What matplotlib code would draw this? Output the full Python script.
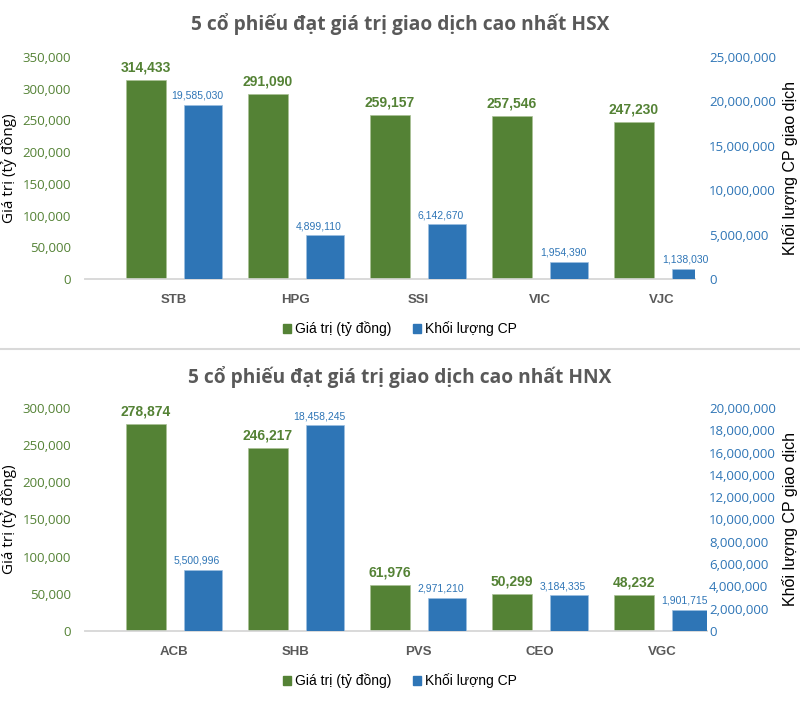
import matplotlib
matplotlib.use("Agg")
import matplotlib.pyplot as plt
from matplotlib.patches import Patch
from matplotlib.ticker import FuncFormatter, MultipleLocator

# HSX
hsx_codes = ["STB", "HPG", "SSI", "VIC", "VJC"]
hsx_value = [314433, 291090, 259157, 257546, 247230]       # ty dong
hsx_volume = [19585030, 4899110, 6142670, 1954390, 1138030]

# HNX
hnx_codes = ["ACB", "SHB", "PVS", "CEO", "VGC"]
hnx_value = [278874, 246217, 61976, 50299, 48232]
hnx_volume = [5500996, 18458245, 2971210, 3184335, 1901715]

GREEN = "#548235"
BLUE = "#2E75B6"
GRAY = "#595959"
NARROW = ["Liberation Sans Narrow", "Liberation Sans", "DejaVu Sans"]
NORMAL = ["Open Sans", "DejaVu Sans"]
ARIAL = ["Liberation Sans", "DejaVu Sans"]

W, H = 800, 703
fig = plt.figure(figsize=(W / 100, H / 100), dpi=100)

comma = FuncFormatter(lambda v, p: f"{v:,.0f}")


def panel(top_px, bottom_px, right_px, title, codes, values, volumes,
          vmax, vstep, qmax, qstep, title_y, legend_y):
    left_px = 85
    ax = fig.add_axes([left_px / W, 1 - bottom_px / H,
                       (right_px - left_px) / W, (bottom_px - top_px) / H])
    ax2 = ax.twinx()
    x = list(range(len(codes)))
    width_unit = 122.0
    xmax = (right_px - left_px) / width_unit - 0.5

    ax.bar(x, values, width=0.32, color=GREEN, edgecolor="#a9c196", lw=0.5, zorder=3)
    xb = [i + 57 / width_unit for i in x]
    ax2.bar(xb, volumes, width=0.31, color=BLUE, edgecolor="#9dbfe0", lw=0.5, zorder=3)

    for i, v in zip(x, values):
        ax.annotate(f"{v:,}", (i, v), xytext=(0, 4), textcoords="offset points",
                    ha="center", va="bottom", color=GREEN, fontsize=10,
                    fontweight="bold", family=NARROW)
    for i, q in zip(xb, volumes):
        ax2.annotate(f"{q:,}", (i - 0.05, q), xytext=(0, 3), textcoords="offset points",
                     ha="center", va="bottom", color=BLUE, fontsize=7.5,
                     family=NARROW, annotation_clip=False)

    ax.set_xlim(-0.5, xmax)
    ax.set_ylim(0, vmax)
    ax2.set_ylim(0, qmax)
    ax.yaxis.set_major_locator(MultipleLocator(vstep))
    ax2.yaxis.set_major_locator(MultipleLocator(qstep))
    ax.yaxis.set_major_formatter(comma)
    ax2.yaxis.set_major_formatter(comma)

    ax.set_xticks([i + 28 / width_unit for i in x])
    ax.set_xticklabels(codes, color=GRAY, fontsize=9.5, fontweight="bold", family=NARROW)
    ax.tick_params(axis="x", length=0, pad=11)
    ax.tick_params(axis="y", length=0, pad=10, labelcolor=GREEN, labelsize=9.5)
    ax2.tick_params(axis="y", length=0, pad=(709 - right_px) * 0.72,
                    labelcolor=BLUE, labelsize=9.5)
    for t in ax.get_yticklabels() + ax2.get_yticklabels():
        t.set_family(NORMAL)

    for a in (ax, ax2):
        for s in ("top", "left", "right"):
            a.spines[s].set_visible(False)
        a.spines["bottom"].set_color("#d9d9d9")
        a.spines["bottom"].set_linewidth(1.2)
        a.patch.set_visible(False)

    mid = 1 - (top_px + bottom_px) / 2 / H
    fig.text(9 / W, mid, "Giá trị (tỷ đồng)", rotation=90, ha="center", va="center",
             fontsize=11, family=NORMAL, color="black")
    fig.text(790 / W, mid, "Khối lượng CP giao dịch", rotation=90, ha="center",
             va="center", fontsize=11.5, family=ARIAL, color="black")
    fig.text(0.5, 1 - title_y / H, title, ha="center", va="center", fontsize=13.8,
             fontweight="bold", color=GRAY, family=NORMAL)

    handles = [Patch(color=GREEN, label="Giá trị (tỷ đồng)"),
               Patch(color=BLUE, label="Khối lượng CP")]
    fig.legend(handles=handles, loc="center", bbox_to_anchor=(0.5, 1 - legend_y / H),
               ncol=2, frameon=False, handlelength=0.55, handleheight=0.55,
               handletextpad=0.3, columnspacing=1.6,
               prop={"family": ARIAL, "size": 10})


panel(57, 279, 695, "5 cổ phiếu đạt giá trị giao dịch cao nhất HSX",
      hsx_codes, hsx_value, hsx_volume, 350000, 50000, 25000000, 5000000, 24, 329)
panel(408, 631, 707, "5 cổ phiếu đạt giá trị giao dịch cao nhất HNX",
      hnx_codes, hnx_value, hnx_volume, 300000, 50000, 20000000, 2000000, 377, 681)

# separator between the two charts
fig.add_artist(plt.Line2D([0, 1], [1 - 349 / H, 1 - 349 / H], color="#d9d9d9", lw=1.5))

fig.savefig("out.png", dpi=100)
